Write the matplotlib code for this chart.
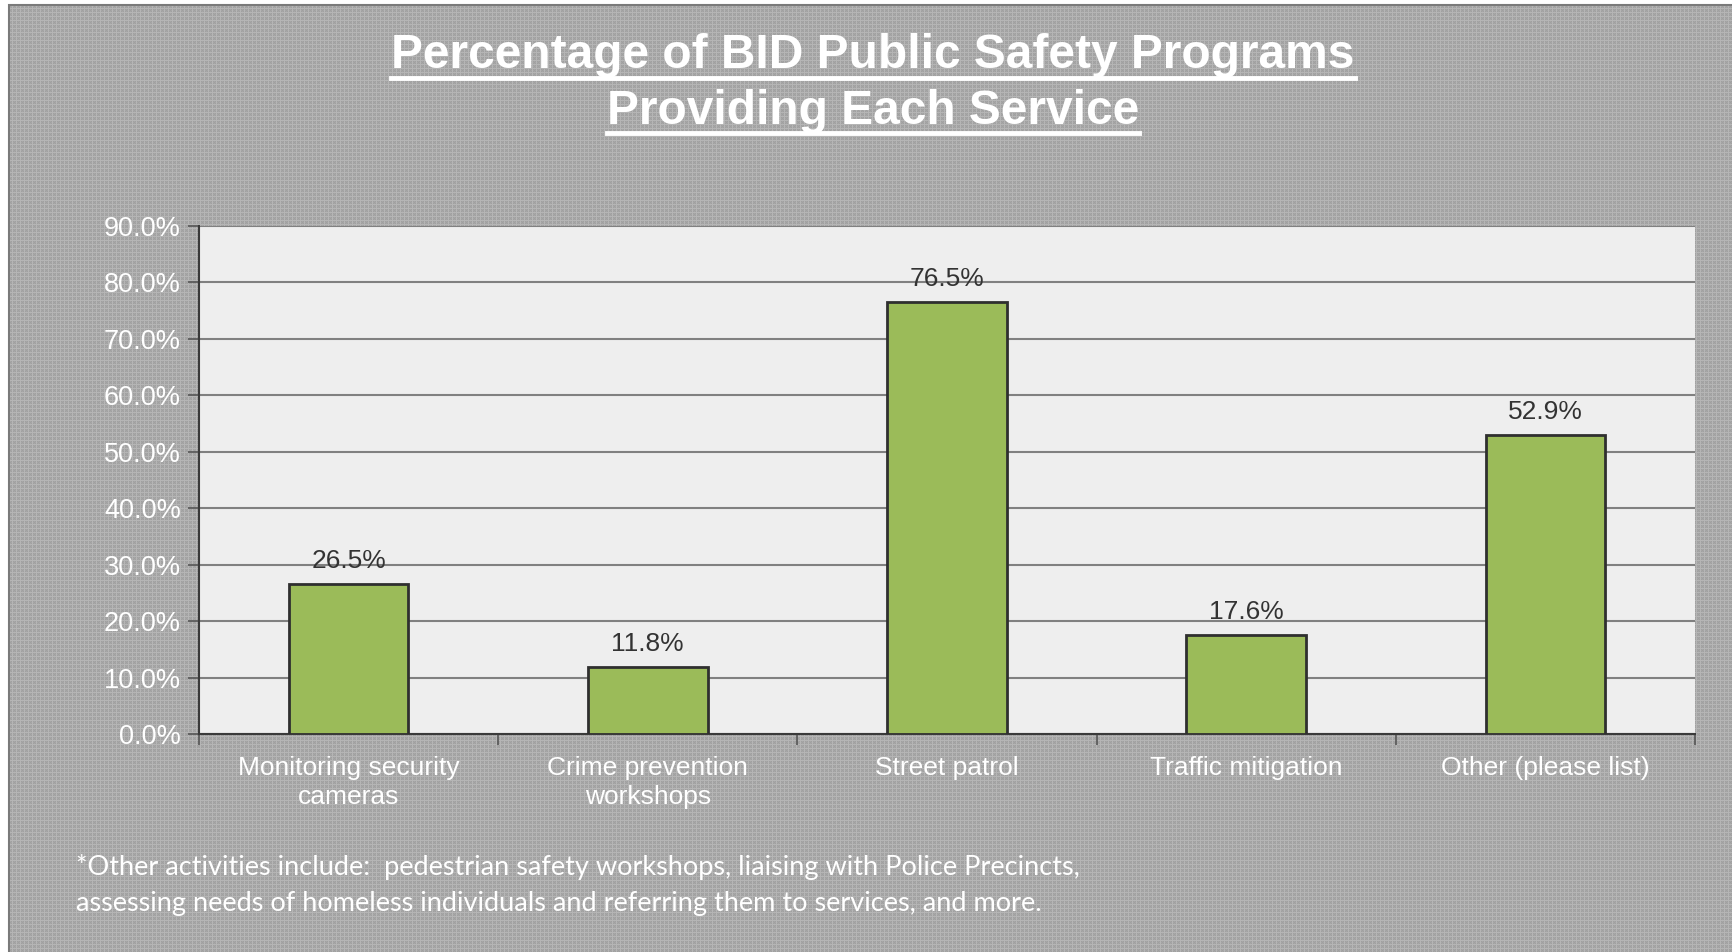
import matplotlib.pyplot as plt
import matplotlib.patches as mpatches
from matplotlib.lines import Line2D
import numpy as np

categories = ["Monitoring security\ncameras", "Crime prevention\nworkshops", "Street patrol",
              "Traffic mitigation", "Other (please list)"]
values = [26.5, 11.8, 76.5, 17.6, 52.9]
yticks = [0, 10, 20, 30, 40, 50, 60, 70, 80, 90]

title_lines = ["Percentage of BID Public Safety Programs", "Providing Each Service"]
footnote = ("*Other activities include:  pedestrian safety workshops, liaising with Police Precincts,\n"
            "assessing needs of homeless individuals and referring them to services, and more.")

W, H = 1732, 952
fig = plt.figure(figsize=(W / 100, H / 100), dpi=100)
fig.patch.set_facecolor("white")

# textured gray background
bg = mpatches.Rectangle((9 / W, 0), 1, 1 - 5 / H, transform=fig.transFigure,
                        facecolor="#a7a7a7", edgecolor="#7a7a7a", linewidth=1.5, zorder=-10)
fig.patches.append(bg)
yy, xx = np.mgrid[0:H, 0:W]
tex = np.full((H, W), 0.655)
tex[(xx % 4 == 0) | (yy % 4 == 0)] = 0.71
tex[((xx + yy) % 2 == 0) & (xx % 4 != 0) & (yy % 4 != 0)] = 0.63
rgba = np.dstack([tex, tex, tex, np.where((xx >= 10) & (yy >= 6), 1.0, 0.0)])
fig.figimage(rgba, xo=0, yo=0, origin="upper", zorder=-5)

ax = fig.add_axes([199 / W, 1 - 734 / H, (1695 - 199) / W, (734 - 226) / H])
ax.set_facecolor("#eeeeee")

x = np.arange(len(categories))
bars = ax.bar(x, values, width=0.4, color="#9bbb59", edgecolor="#2f2f2f", linewidth=2, zorder=3)
for xi, v in zip(x, values):
    ax.annotate(f"{v:.1f}%", (xi, v), xytext=(0, 8), textcoords="offset points",
                ha="center", va="bottom", fontsize=19, color="#333333", family="Liberation Sans")

ax.set_xlim(-0.5, len(categories) - 0.5)
ax.set_ylim(0, 90)
ax.set_yticks(yticks)
ax.set_yticklabels([f"{t:.1f}%" for t in yticks], fontsize=19.5, color="white", family="Liberation Sans")
ax.yaxis.grid(True, color="#808080", linewidth=1.5)
ax.set_axisbelow(True)

ax.set_xticks(x)
ax.set_xticklabels(categories, fontsize=19, color="white", family="Liberation Sans", linespacing=1.25)
ax.tick_params(axis="x", which="major", length=0, pad=16)
ax.set_xticks(np.arange(len(categories) + 1) - 0.5, minor=True)
ax.tick_params(axis="x", which="minor", length=8, color="#555555", width=1.2, direction="out")
ax.tick_params(axis="y", length=8, color="#555555", width=1.2, direction="out", pad=5)

for s in ["top", "right"]:
    ax.spines[s].set_visible(False)
for s in ["left", "bottom"]:
    ax.spines[s].set_color("#3a3a3a")
    ax.spines[s].set_linewidth(1.5)

# title with underline
title_y = [1 - 56 / H, 1 - 111 / H]
title_texts = []
for line, ty in zip(title_lines, title_y):
    t = fig.text(873 / W, ty, line, ha="center", va="center", fontsize=34.5, fontweight="bold",
                 color="white", family="Liberation Sans")
    title_texts.append(t)

fig.text(76 / W, 1 - 885 / H, footnote, ha="left", va="center", fontsize=19.5, color="white",
         family="Lato", linespacing=1.55)

fig.canvas.draw()
renderer = fig.canvas.get_renderer()
for t in title_texts:
    bb = t.get_window_extent(renderer).transformed(fig.transFigure.inverted())
    uy = bb.y0 + 1 / H
    fig.add_artist(Line2D([bb.x0, bb.x1], [uy, uy], transform=fig.transFigure,
                          color="white", linewidth=3.5))

fig.savefig("out.png", dpi=100)
